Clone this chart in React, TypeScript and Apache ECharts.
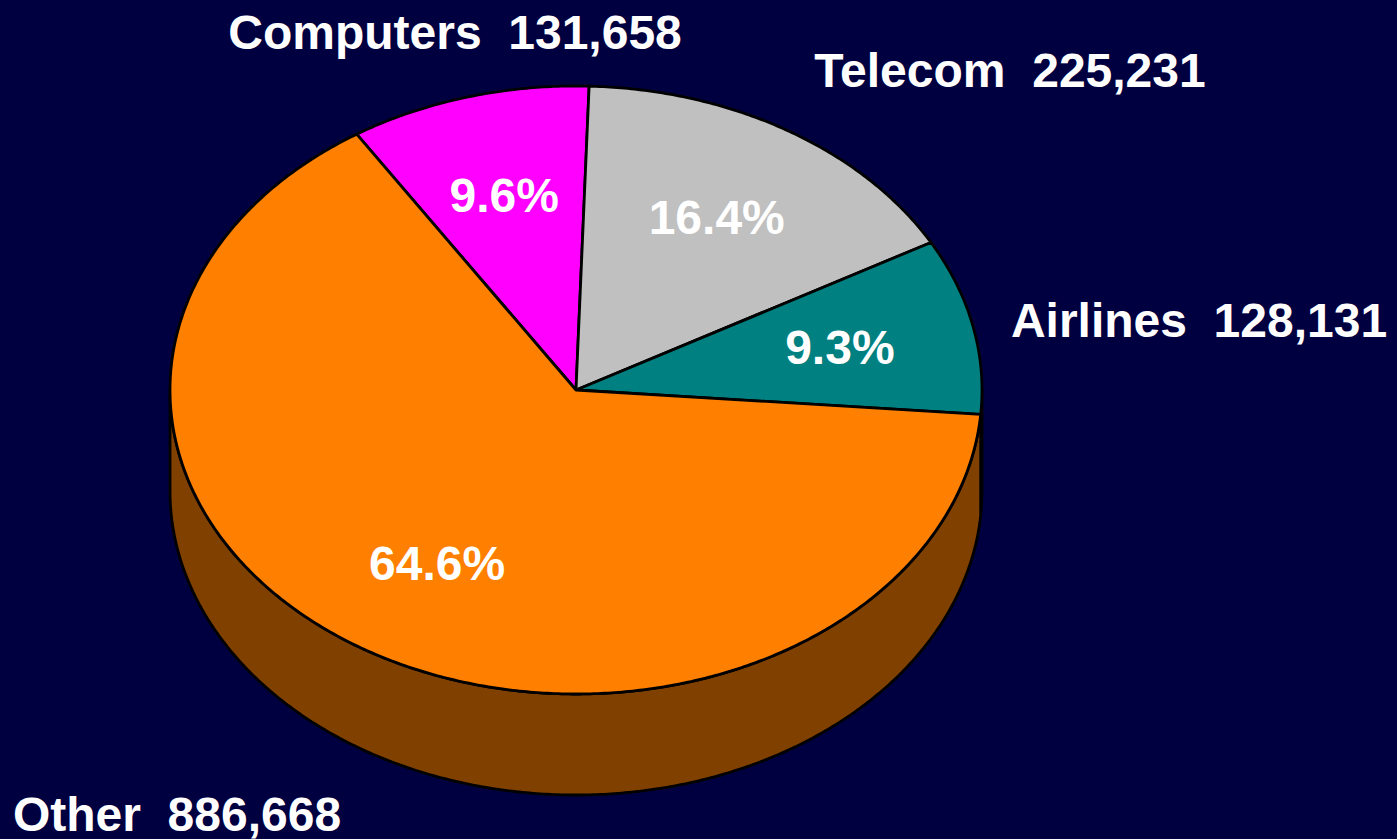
import React, { useEffect, useRef } from "react";
import * as echarts from "echarts";

// ---- data ----
const categories = ["Computers", "Telecom", "Airlines", "Other"];
const values = [131658, 225231, 128131, 886668];
const sliceColors = ["#FF00FF", "#C0C0C0", "#008080", "#FF8000"];
const sideColors = ["#800080", "#606060", "#004040", "#804000"];

// ---- layout ----
const W = 1397;
const H = 839;
const CX = 576;
const CY = 390;
const RX = 406;
const RY = 304;
const DEPTH = 101;
const START_DEG = -122.7; // screen angle (clockwise from +x)
const PCT_R = 0.665;
const FONT = "bold 48px 'Liberation Sans', Arial, sans-serif";
// outside label centres
const outsideLabelPos: [number, number][] = [
  [455, 32],
  [1010, 70],
  [1199, 320],
  [177, 814],
];

const total = values.reduce((a, b) => a + b, 0);

function angles(i: number): [number, number] {
  let acc = 0;
  for (let k = 0; k < i; k++) acc += values[k];
  const a = START_DEG + (acc / total) * 360;
  const b = START_DEG + ((acc + values[i]) / total) * 360;
  return [a, b];
}

function pt(deg: number, dy = 0): [number, number] {
  const r = (deg * Math.PI) / 180;
  return [CX + RX * Math.cos(r), CY + RY * Math.sin(r) + dy];
}

function arcPts(a: number, b: number, dy = 0): [number, number][] {
  const n = Math.max(2, Math.ceil(Math.abs(b - a) / 0.5));
  const out: [number, number][] = [];
  for (let j = 0; j <= n; j++) out.push(pt(a + ((b - a) * j) / n, dy));
  return out;
}

export default function App() {
  const ref = useRef<HTMLDivElement>(null);
  useEffect(() => {
    if (!ref.current) return;
    const chart = echarts.init(ref.current, null, { renderer: "svg" });
    const option: any = {
      animation: false,
      backgroundColor: "#000040",
      series: [
        {
          type: "custom",
          coordinateSystem: "none",
          data: values.map((v) => [v]),
          renderItem: (params: any, api: any) => {
            const i = params.dataIndex;
            const [a, b] = angles(i);
            const children: any[] = [];
            // visible side wall: screen angles within [k*360, k*360+180]
            for (let k = -1; k <= 1; k++) {
              const lo = Math.max(a, k * 360);
              const hi = Math.min(b, k * 360 + 180);
              if (hi > lo) {
                const top = arcPts(lo, hi);
                const bot = arcPts(hi, lo, DEPTH);
                children.push({
                  type: "polygon",
                  shape: { points: top.concat(bot) },
                  style: { fill: sideColors[i], stroke: "#000", lineWidth: 2.8, lineJoin: "round" },
                });
              }
            }
            // top face
            const face: [number, number][] = [[CX, CY]].concat(arcPts(a, b)) as any;
            children.push({
              type: "polygon",
              shape: { points: face },
              style: { fill: sliceColors[i], stroke: "#000", lineWidth: 2.8, lineJoin: "round" },
            });
            // percent label
            const mid = ((a + b) / 2) * (Math.PI / 180);
            const pct = ((api.value(0) / total) * 100).toFixed(1) + "%";
            children.push({
              type: "text",
              x: CX + RX * PCT_R * Math.cos(mid),
              y: CY + RY * PCT_R * Math.sin(mid),
              style: {
                text: pct,
                fill: "#fff",
                font: FONT,
                lineHeight: 40,
                align: "center",
                verticalAlign: "middle",
              },
            });
            return { type: "group", children };
          },
        },
      ],
      graphic: categories.map((c, i) => ({
        type: "text",
        x: outsideLabelPos[i][0],
        y: outsideLabelPos[i][1],
        style: {
          text: c + "  " + values[i].toLocaleString("en-US"),
          fill: "#fff",
          font: FONT,
          lineHeight: 40,
          align: "center",
          verticalAlign: "middle",
        },
      })),
    };
    chart.setOption(option);
    return () => chart.dispose();
  }, []);
  return (
    <div
      ref={ref}
      style={{ position: "absolute", left: 0, top: 0, width: W, height: H }}
    />
  );
}
